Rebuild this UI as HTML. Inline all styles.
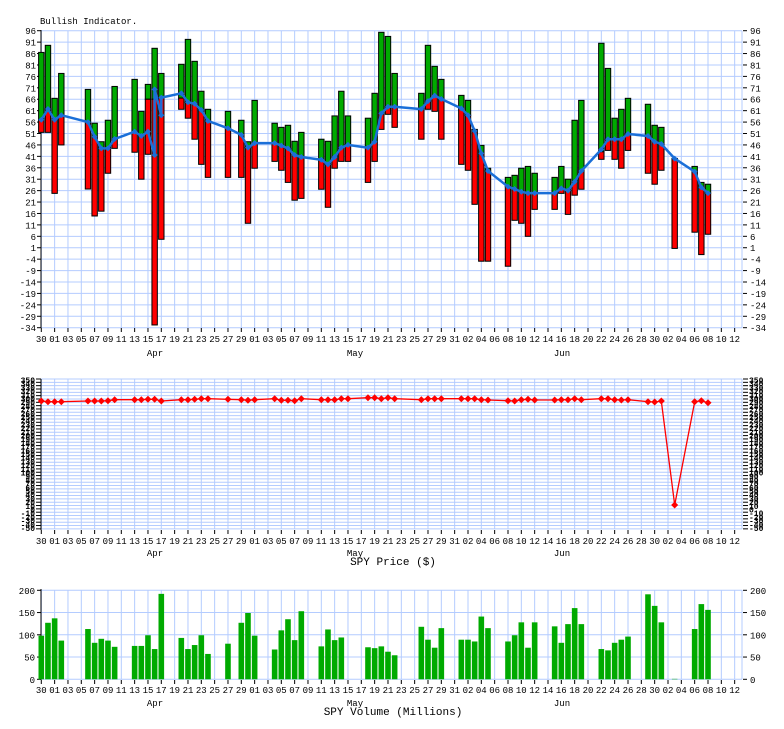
<!DOCTYPE html>
<html><head><meta charset="utf-8"><style>
html,body{margin:0;padding:0;background:#fff;}
svg{display:block;}
text{font-family:"Liberation Mono",monospace;font-size:9px;fill:#000;}
</style></head><body>
<svg id="s" width="784" height="729" xmlns="http://www.w3.org/2000/svg"></svg>
<script>
var s=document.getElementById('s');var out='';
function X(d){return 41.3+6.667*d;}
var G='#b4ccff';
var labs=[];
(function(){var day=30,mi=0,lens=[31,30,31,30,31];for(var i=0;i<=104;i++){if(i%2==0)labs.push([i,(day<10?'0':'')+day]);day++;if(day>lens[mi]){day=1;mi++;}}})();
function xaxis(y0,yl,ym){for(var i=0;i<labs.length;i++){var x=X(labs[i][0]);out+='<line x1="'+x+'" y1="'+y0+'" x2="'+x+'" y2="'+(y0+4)+'" stroke="#000"/>';out+='<text x="'+x+'" y="'+yl+'" text-anchor="middle">'+labs[i][1]+'</text>';}
out+='<text x="155" y="'+ym+'" text-anchor="middle">Apr</text><text x="355" y="'+ym+'" text-anchor="middle">May</text><text x="562" y="'+ym+'" text-anchor="middle">Jun</text>';}
function vgrid(y1,y2){for(var i=0;i<labs.length;i++){var x=X(labs[i][0]);out+='<line x1="'+x+'" y1="'+y1+'" x2="'+x+'" y2="'+y2+'" stroke="'+G+'"/>';}out+='<line x1="742" y1="'+y1+'" x2="742" y2="'+y2+'" stroke="'+G+'"/>';}
function Y(v){return 30.7+(96-v)*2.2846;}
vgrid(31,328);
for(var v=96;v>=-34;v-=5){var y=Y(v);out+='<line x1="41" y1="'+y+'" x2="742" y2="'+y+'" stroke="'+G+'"/>';
out+='<line x1="37" y1="'+y+'" x2="41" y2="'+y+'" stroke="#000"/><text x="36" y="'+(y+3.5)+'" text-anchor="end">'+v+'</text>';
out+='<line x1="743" y1="'+y+'" x2="747" y2="'+y+'" stroke="#000"/><text x="750" y="'+(y+3.5)+'">'+v+'</text>';}
out+='<line x1="41" y1="30" x2="41" y2="328" stroke="#000"/>';
xaxis(328,342,356);
out+='<text x="40" y="24" style="font-size:9px">Bullish Indicator.</text>';
var B=[[0,86.5,51.5,57],[1,89.6,51.5,61.7],[2,66.4,24.8,57],[3,77.3,46,59],[7,70.3,26.7,56],[8,55.5,14.9,49.6],[9,47.4,17,44.5],[10,56.8,33.6,44.5],[11,71.6,44.5,48.6],
[14,74.7,42.8,51.8],[15,60.7,31,49.9],[16,72.5,41.9,66],[17,88.3,-32.8,66],[18,77.3,4.7,66.7],[21,81.3,61.6,66.5],[22,92.2,57.7,64.7],[23,82.6,48.5,64],[24,69.5,37.5,61.3],[25,61.6,31.8,56.5],
[28,60.7,31.8,53.3],[30,56.8,31.8,50.4],[31,47.4,11.7,44.8],[32,65.5,35.8,46.8],[35,55.5,38.8,46.8],[36,53.7,34.9,45.7],[37,54.6,29.6,44.5],[38,47.6,21.8,41.6],[39,51.5,22.6,40.7],
[42,48.5,26.6,39.5],[43,47.6,18.7,37.5],[44,58.7,35.8,40.7],[45,69.5,38.8,44.8],[46,58.7,38.8,46],[49,57.7,29.6,44.8],[50,68.6,38.8,47.4],[51,95.3,52.8,59.8],[52,93.5,59.4,62.7],[53,77.3,53.7,62.7],
[57,68.6,48.5,61.7],[58,89.6,61.6,65.2],[59,80.4,60.7,67.6],[60,74.7,48.5,66.1],[63,67.7,37.5,62],[64,65.5,34.9,59],[65,52.8,20,52.1],[66,45.8,-4.9,42.3],[67,35.8,-4.9,34.6],
[70,31.8,-7.1,27.7],[71,32.7,13,26.7],[72,35.8,11.7,25.5],[73,36.6,6,24.9],[74,33.6,17.8,24.9],[77,31.8,17.8,24.9],[78,36.6,24.8,27],[79,31,15.6,26],[80,56.8,24,29.9],[81,65.5,26.6,34.6],
[84,90.5,39.7,43],[85,79.5,43.6,48.5],[86,57.7,39.7,48.5],[87,61.6,35.8,48.5],[88,66.4,43.6,50.8],[91,63.8,33.6,49.9],[92,54.6,28.8,47.4],[93,53.7,34.9,46.4],[95,40.1,0.7,40],[98,36.6,7.8,34.3],[99,29.6,-2,27.4],[100,28.8,6.9,24.9]];
for(var i=0;i<B.length;i++){var b=B[i],x=X(b[0])-2.7,w=5.4,sp=Math.min(Math.max(b[3],b[2]),b[1]);
out+='<rect x="'+x+'" y="'+Y(b[1])+'" width="'+w+'" height="'+(Y(sp)-Y(b[1]))+'" fill="#00aa00" stroke="#000" stroke-width="1"/>';
out+='<rect x="'+x+'" y="'+Y(sp)+'" width="'+w+'" height="'+(Y(b[2])-Y(sp))+'" fill="#ff0000" stroke="#000" stroke-width="1"/>';}
var L=[[0,57],[1,61.7],[2,57],[3,59],[7,56],[8,49.6],[9,44.5],[10,44.5],[11,48.6],[14,51.8],[15,49.9],[16,51.8],[17,41.6],[17,70.3],[18,59],[18,66.7],[21,68.6],[22,64.7],[23,64],[24,61.3],[25,56.5],
[28,53.3],[30,50.4],[31,44.8],[32,46.8],[35,46.8],[36,45.7],[37,44.5],[38,41.6],[39,40.7],[42,39.5],[43,37.5],[44,40.7],[45,44.8],[46,46],[49,44.8],[50,47.4],[51,59.8],[52,62.7],[53,62.7],
[57,61.7],[58,65.2],[59,67.6],[60,66.1],[63,62],[64,59],[65,52.1],[66,42.3],[67,34.6],[70,27.7],[71,26.7],[72,25.5],[73,24.9],[74,24.9],[77,24.9],[78,27],[79,26],[80,29.9],[81,34.6],
[84,44],[85,48.5],[86,48.5],[87,48.5],[88,50.8],[91,49.9],[92,47.4],[93,46.4],[95,40],[98,34.3],[99,27.4],[100,24.9]];
var p='';for(var i=0;i<L.length;i++)p+=(i?'L':'M')+X(L[i][0]).toFixed(1)+' '+Y(L[i][1]).toFixed(1);
out+='<path d="'+p+'" fill="none" stroke="#1a6fd8" stroke-width="2.5" stroke-linejoin="round"/>';
for(var i=0;i<L.length;i++){var x=X(L[i][0]),y=Y(L[i][1]);out+='<path d="M'+(x-3)+' '+y+'L'+x+' '+(y-3)+'L'+(x+3)+' '+y+'L'+x+' '+(y+3)+'Z" fill="#1a6fd8"/>';}
vgrid(379,529);
for(var y=379;y<=529.5;y+=3.33){out+='<line x1="41" y1="'+y+'" x2="742" y2="'+y+'" stroke="'+G+'"/><line x1="36" y1="'+y+'" x2="41" y2="'+y+'" stroke="#000"/><line x1="743" y1="'+y+'" x2="748" y2="'+y+'" stroke="#000"/>';}
out+='<line x1="41" y1="379" x2="41" y2="530" stroke="#000"/>';
var pl=['350','340','330','320','310','300','290','280','270','260','250','240','230','220','210','200','190','180','170','160','150','140','130','120','110','100','90','80','70','60','50','40','30','20','10','0','-10','-20','-30','-40','-50'];
for(var i=0;i<pl.length;i++){var y=380+i*3.7;out+='<text x="35" y="'+(y+3)+'" text-anchor="end" style="font-size:8px;font-weight:bold">'+pl[i]+'</text><text x="749" y="'+(y+3)+'" style="font-size:8px;font-weight:bold">'+pl[i]+'</text>';}
xaxis(530,544,556);
out+='<text x="393" y="565" text-anchor="middle" style="font-size:11px">SPY Price ($)</text>';
var P=[[0,401],[1,401.7],[2,401.7],[3,401.7],[7,401],[8,401],[9,401],[10,400.7],[11,399.7],[14,399.7],[15,399.7],[16,399.3],[17,399.3],[18,401],[21,399.7],[22,399.7],[23,399.3],[24,398.7],[25,398.7],
[28,399.3],[30,399.7],[31,400.3],[32,399.7],[35,398.7],[36,400.3],[37,400.3],[38,400.7],[39,398.7],[42,399.7],[43,399.7],[44,399.7],[45,398.7],[46,398.7],[49,397.7],[50,397.7],[51,398.7],[52,397.7],[53,398.7],
[57,399.7],[58,398.7],[59,398.7],[60,398.7],[63,398.7],[64,398.7],[65,398.7],[66,399.7],[67,400],[70,400.7],[71,401],[72,399.7],[73,399.3],[74,400],[77,400],[78,399.7],[79,399.7],[80,398.7],[81,399.7],
[84,398.7],[85,398.7],[86,399.7],[87,400],[88,399.7],[91,401.7],[92,402],[93,401],[95,505],[98,401.7],[99,400.7],[100,402.7]];
p='';for(var i=0;i<P.length;i++)p+=(i?'L':'M')+X(P[i][0]).toFixed(1)+' '+P[i][1];
out+='<path d="'+p+'" fill="none" stroke="#ff0000" stroke-width="1.3"/>';
for(var i=0;i<P.length;i++){var x=X(P[i][0]),y=P[i][1];out+='<path d="M'+(x-3.5)+' '+y+'L'+x+' '+(y-3.5)+'L'+(x+3.5)+' '+y+'L'+x+' '+(y+3.5)+'Z" fill="#ff0000"/>';}
function VY(v){return 679.3-v*0.445;}
vgrid(590,679);
for(var v=0;v<=200;v+=50){var y=VY(v);out+='<line x1="41" y1="'+y+'" x2="742" y2="'+y+'" stroke="'+G+'"/><line x1="37" y1="'+y+'" x2="41" y2="'+y+'" stroke="#000"/><text x="35" y="'+(y+3.5)+'" text-anchor="end">'+v+'</text><line x1="743" y1="'+y+'" x2="747" y2="'+y+'" stroke="#000"/><text x="750" y="'+(y+3.5)+'">'+v+'</text>';}
out+='<line x1="41" y1="589" x2="41" y2="680" stroke="#000"/>';
var V=[[0,98],[1,127],[2,137],[3,87],[7,113],[8,82],[9,91],[10,87],[11,73],[14,75],[15,75],[16,99],[17,68],[18,192],[21,93],[22,68],[23,77],[24,99],[25,57],[28,80],[30,127],[31,149],[32,98],
[35,67],[36,110],[37,135],[38,88],[39,153],[42,74],[43,112],[44,88],[45,94],[46,0],[49,72],[50,70],[51,74],[52,62],[53,54],
[57,118],[58,89],[59,71],[60,115],[63,89],[64,89],[65,85],[66,141],[67,115],[70,85],[71,99],[72,128],[73,71],[74,128],[77,119],[78,82],[79,124],[80,160],[81,124],
[84,68],[85,65],[86,82],[87,89],[88,96],[91,191],[92,165],[93,128],[95,1],[98,113],[99,169],[100,156]];
for(var i=0;i<V.length;i++){if(!V[i][1])continue;var x=X(V[i][0])-2.8;out+='<rect x="'+x+'" y="'+VY(V[i][1])+'" width="5.6" height="'+(V[i][1]*0.445)+'" fill="#00aa00"/>';}
xaxis(680,693,706);
out+='<text x="393" y="715" text-anchor="middle" style="font-size:11px">SPY Volume (Millions)</text>';
s.innerHTML=out;
</script>
</body></html>
